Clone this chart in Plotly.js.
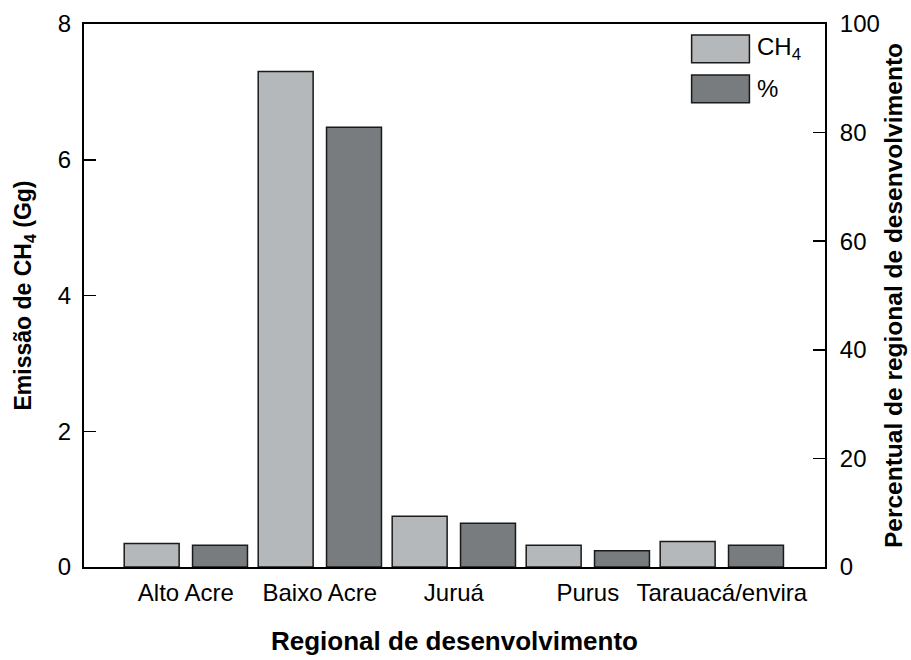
<!DOCTYPE html>
<html>
<head>
<meta charset="utf-8">
<script src="https://cdn.plot.ly/plotly-3.0.1.min.js"></script>
<style>html,body{margin:0;padding:0;background:#fff;}#chart{width:911px;height:660px;}</style>
</head>
<body>
<div id="chart"></div>
<script>
const regions = ["Alto Acre", "Baixo Acre", "Juruá", "Purus", "Tarauacá/envira"];
const ch4Emission = [0.345, 7.30, 0.747, 0.32, 0.374];
const percentShare = [4.0, 81.0, 8.05, 3.0, 4.0];
const yTicks = [0, 2, 4, 6, 8];
const y2Ticks = [0, 20, 40, 60, 80, 100];

const lightGray = "#b4b8ba";
const darkGray = "#787c7e";
const outline = "#1a1a1a";
const font = "Liberation Sans, Arial, sans-serif";

const traces = [
  {
    type: "bar", x: regions, y: ch4Emission, name: "CH<sub>4</sub>",
    width: 0.41, offset: -0.46,
    marker: {color: lightGray, line: {color: outline, width: 1.5}},
    yaxis: "y", showlegend: false
  },
  {
    type: "bar", x: regions, y: percentShare, name: "%",
    width: 0.41, offset: 0.05,
    marker: {color: darkGray, line: {color: outline, width: 1.5}},
    yaxis: "y2", showlegend: false
  }
];

const layout = {
  width: 911, height: 660,
  margin: {l: 84, r: 86, t: 24, b: 93},
  paper_bgcolor: "#fff", plot_bgcolor: "#fff",
  font: {family: font, color: "#000", size: 24},
  barmode: "overlay",
  xaxis: {
    type: "category", range: [-0.76, 4.77],
    showline: true, linecolor: "#000", linewidth: 2, mirror: true,
    ticks: "", showgrid: false, zeroline: false,
    tickfont: {size: 24, family: font}, ticklabelstandoff: 3,
    title: {text: "<b>Regional de desenvolvimento</b>", font: {size: 26, family: font}, standoff: 27}
  },
  yaxis: {
    range: [0, 8], tickvals: yTicks, ticktext: yTicks.map(String),
    showline: true, linecolor: "#000", linewidth: 2,
    ticks: "inside", ticklen: 12, tickwidth: 1.5, tickcolor: "#000",
    showgrid: false, zeroline: false,
    tickfont: {size: 24, family: font}, ticklabelstandoff: 6,
    title: {text: "<b>Emissão de CH<sub>4</sub> (Gg)</b>", font: {size: 23, family: font}, standoff: 20}
  },
  yaxis2: {
    overlaying: "y", side: "right",
    range: [0, 100], tickvals: y2Ticks, ticktext: y2Ticks.map(String),
    showline: true, linecolor: "#000", linewidth: 2,
    ticks: "inside", ticklen: 12, tickwidth: 1.5, tickcolor: "#000",
    showgrid: false, zeroline: false,
    tickfont: {size: 24, family: font}, ticklabelstandoff: 8,
    title: {text: "<b>Percentual de regional de desenvolvimento</b>", font: {size: 24.5, family: font}, standoff: 6}
  },
  shapes: [
    {type: "rect", xref: "paper", yref: "paper", x0: 0.820, x1: 0.898, y0: 0.9287, y1: 0.9797,
     fillcolor: lightGray, line: {color: outline, width: 1.5}},
    {type: "rect", xref: "paper", yref: "paper", x0: 0.820, x1: 0.898, y0: 0.855, y1: 0.906,
     fillcolor: darkGray, line: {color: outline, width: 1.5}}
  ],
  annotations: [
    {xref: "paper", yref: "paper", x: 0.906, y: 0.9542, xanchor: "left", yanchor: "middle",
     text: "CH<sub>4</sub>", showarrow: false, font: {size: 24, family: font}},
    {xref: "paper", yref: "paper", x: 0.906, y: 0.8805, xanchor: "left", yanchor: "middle",
     text: "%", showarrow: false, font: {size: 24, family: font}}
  ]
};

Plotly.newPlot("chart", traces, layout, {displayModeBar: false, staticPlot: true});
</script>
</body>
</html>
